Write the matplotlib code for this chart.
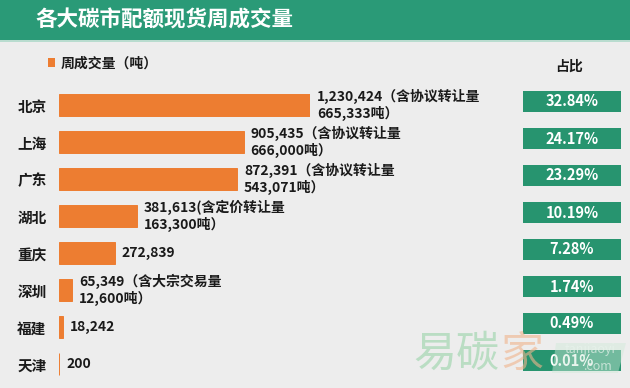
import matplotlib.pyplot as plt
from matplotlib.patches import Rectangle, Polygon

plt.rcParams['font.family'] = ['Noto Sans CJK SC', 'DejaVu Sans']

# data
cities = ['北京', '上海', '广东', '湖北', '重庆', '深圳', '福建', '天津']
volumes = [1230424, 905435, 872391, 381613, 272839, 65349, 18242, 200]
notes = ['1,230,424（含协议转让量\n665,333吨）',
         '905,435（含协议转让量\n666,000吨）',
         '872,391（含协议转让量\n543,071吨）',
         '381,613(含定价转让量\n163,300吨）',
         '272,839',
         '65,349（含大宗交易量\n12,600吨）',
         '18,242',
         '200']
shares = ['32.84%', '24.17%', '23.29%', '10.19%', '7.28%', '1.74%', '0.49%', '0.01%']

bg = '#EDEDED'
green = '#2A9A77'
box_green = '#27946F'
orange = '#ED7D31'
W, H = 630, 388

fig = plt.figure(figsize=(W / 100, H / 100), dpi=100, facecolor=bg)

def px(x0, y0, x1, y1):
    # pixel box (top-left origin) -> figure fraction rect
    return [x0 / W, 1 - y1 / H, (x1 - x0) / W, (y1 - y0) / H]

# title bar
fig.patches.append(Rectangle((0, 1 - 40 / H), 1, 40 / H, transform=fig.transFigure,
                             facecolor=green, edgecolor='none'))
fig.patches.append(Rectangle((0, 1 - 42 / H), 1, 2 / H, transform=fig.transFigure,
                             facecolor='#B9DCCF', edgecolor='none'))
fig.text(35 / W, 1 - 20 / H, '各大碳市配额现货周成交量', color='white',
         fontsize=15.5, fontweight='heavy', va='center', ha='left')

# legend + header
fig.patches.append(Rectangle((48 / W, 1 - 67 / H), 7 / W, 9 / H, transform=fig.transFigure,
                             facecolor=orange, edgecolor='none'))
fig.text(61 / W, 1 - 64 / H, '周成交量（吨）', fontsize=10, fontweight='bold',
         va='center', ha='left', color='#1a1a1a')
fig.text(569 / W, 1 - 67 / H, '占比', fontsize=10, fontweight='bold',
         va='center', ha='center', color='#1a1a1a')

# bars (thin edge so the 200 t bar still shows as a sliver)
ypos = list(range(len(cities)))
ax = fig.add_axes(px(59, 86.5, 310, 382.5))
ax.set_facecolor('none')
ax.barh(ypos, volumes, height=0.57, color=orange, edgecolor=orange, linewidth=0.7)
ax.set_xlim(0, max(volumes))
ax.set_ylim(len(cities) - 0.5, -0.5)
ax.set_yticks(ypos)
ax.set_yticklabels(cities, fontsize=10.5, fontweight='bold', color='#1a1a1a')
ax.tick_params(axis='y', length=0, pad=9)
ax.set_xticks([])
for s in ax.spines.values():
    s.set_visible(False)
for i, (v, t) in enumerate(zip(volumes, notes)):
    ax.annotate(t, (v, i), xytext=(5, 0), textcoords='offset points',
                va='center', ha='left', fontsize=10, fontweight='bold',
                color='#1a1a1a', linespacing=1.15, annotation_clip=False)

# share boxes
ax2 = fig.add_axes(px(523, 83, 621, 379))
ax2.set_facecolor('none')
ax2.barh(ypos, [1] * len(shares), height=0.56, color=box_green)
ax2.set_xlim(0, 1)
ax2.set_ylim(len(shares) - 0.5, -0.5)
ax2.axis('off')
for i, s in enumerate(shares):
    ax2.text(0.5, i, s, ha='center', va='center', color='white',
             fontsize=10.5, fontweight='bold')

# faint watermark
fig.text(413 / W, 1 - 355 / H, '易碳', fontsize=31, color='#A9D8B6', alpha=0.75,
         va='center', ha='left', zorder=5)
fig.text(500 / W, 1 - 355 / H, '家', fontsize=31, color='#F0B48C', alpha=0.6,
         va='center', ha='left', zorder=5)
fig.patches.append(Polygon([(552 / W, 1 - 373 / H), (618 / W, 1 - 373 / H),
                            (626 / W, 1 - 343 / H), (556 / W, 1 - 343 / H)],
                           closed=True, transform=fig.transFigure,
                           facecolor='#CFE9D9', edgecolor='none', alpha=0.45, zorder=4))
fig.text(590 / W, 1 - 350 / H, 'tanjiaoyi', fontsize=9, style='italic',
         color='#E8F3EC', alpha=0.7, ha='center', va='center', zorder=6)
fig.text(598 / W, 1 - 367 / H, '.com', fontsize=9, style='italic',
         color='#E8F3EC', alpha=0.7, ha='center', va='center', zorder=6)

fig.savefig('out.png', dpi=100, facecolor=bg)
